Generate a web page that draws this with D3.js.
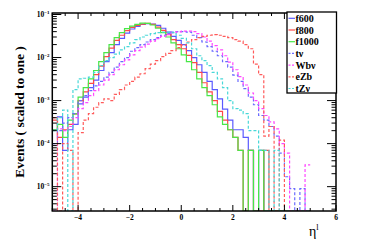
<!DOCTYPE html>
<html><head><meta charset="utf-8">
<script src="https://cdn.jsdelivr.net/npm/d3@7/dist/d3.min.js"></script>
<style>
body{margin:0;background:#fff;}
svg{display:block;font-family:"Liberation Serif","Times New Roman",serif;font-weight:bold;}
</style>
</head><body>
<svg id="c" width="374" height="249"></svg>
<script>
// histogram binning: 50 bins of width 0.2 from -5 to 5
const binLow = -5, binWidth = 0.2, nBins = 50;

const f600 = [2.1e-4,4.2e-4,7e-5,2.1e-4,2.8e-4,8.4e-4,1.2e-3,2.0e-3,3.0e-3,5.0e-3,
  8.0e-3,1.3e-2,2.0e-2,2.8e-2,3.7e-2,4.6e-2,5.3e-2,5.9e-2,6.1e-2,6.0e-2,
  5.6e-2,4.8e-2,3.9e-2,3.1e-2,2.5e-2,2.0e-2,1.45e-2,1.0e-2,6.8e-3,4.5e-3,
  2.8e-3,1.8e-3,1.1e-3,6.3e-4,3.5e-4,2.1e-4,2.1e-4,1.4e-4,7e-5,0,
  7e-5,0,0,0,0,0,0,0,0,0];
const f800 = [3.5e-4,1.4e-4,2.1e-4,2.8e-4,4.9e-4,1.0e-3,1.6e-3,2.5e-3,4.0e-3,6.3e-3,
  1.05e-2,1.66e-2,2.5e-2,3.3e-2,4.2e-2,5.0e-2,5.6e-2,6.0e-2,6.2e-2,5.9e-2,
  5.1e-2,4.3e-2,3.4e-2,2.6e-2,2.0e-2,1.6e-2,1.12e-2,7.6e-3,4.5e-3,2.6e-3,
  1.6e-3,1.0e-3,5.6e-4,3.5e-4,2.1e-4,1.4e-4,7e-5,0,7e-5,0,
  0,7e-5,0,0,0,0,0,0,0,0];
const f1000 = [2.1e-4,2.8e-4,1.4e-4,3.5e-4,4.9e-4,1.2e-3,2.0e-3,3.2e-3,5.0e-3,8.0e-3,
  1.3e-2,2.0e-2,2.9e-2,3.8e-2,4.7e-2,5.4e-2,5.9e-2,6.3e-2,6.2e-2,5.7e-2,
  4.8e-2,3.8e-2,3.0e-2,2.2e-2,1.6e-2,1.15e-2,8.0e-3,5.2e-3,3.2e-3,2.0e-3,
  1.3e-3,8.0e-4,4.2e-4,2.8e-4,2.1e-4,1.4e-4,7e-5,0,7e-5,0,
  7e-5,0,0,0,0,0,0,0,0,0];
const tnu = [1.0e-4,2.0e-4,3.0e-4,4.0e-4,5.0e-4,1.0e-3,1.3e-3,1.7e-3,2.2e-3,2.8e-3,
  3.5e-3,4.5e-3,6.0e-3,8.0e-3,1.0e-2,1.4e-2,1.7e-2,2.0e-2,2.3e-2,2.6e-2,
  2.9e-2,3.3e-2,3.6e-2,3.9e-2,4.0e-2,4.0e-2,3.9e-2,3.3e-2,2.9e-2,2.3e-2,
  1.8e-2,1.4e-2,1.1e-2,8.0e-3,6.0e-3,3.9e-3,2.8e-3,1.9e-3,1.2e-3,8.0e-4,
  4.5e-4,3.5e-4,2.5e-4,1.5e-4,6e-5,1.7e-5,9e-6,0,9e-6,0];
const Wbnu = [0,2.2e-4,2.0e-4,2.5e-4,4.0e-4,6.5e-4,9.0e-4,1.3e-3,1.7e-3,2.3e-3,
  3.0e-3,4.0e-3,5.2e-3,6.8e-3,8.8e-3,1.15e-2,1.45e-2,1.75e-2,2.05e-2,2.4e-2,
  2.75e-2,3.1e-2,3.45e-2,3.75e-2,3.95e-2,4.1e-2,4.1e-2,4.0e-2,3.6e-2,3.0e-2,
  2.4e-2,1.9e-2,1.5e-2,1.1e-2,7.8e-3,5.2e-3,3.6e-3,2.3e-3,1.5e-3,1.0e-3,
  6.5e-4,4.5e-4,3.2e-4,2.2e-4,1.0e-4,6e-5,0,0,0,3.2e-5];
const eZb = [4.0e-4,0,1.0e-4,7e-5,0,1.8e-4,3.5e-4,5.0e-4,7.0e-4,9.0e-4,
  1.1e-3,1.0e-3,1.4e-3,1.8e-3,2.3e-3,2.8e-3,3.5e-3,4.2e-3,5.5e-3,7.0e-3,
  8.5e-3,1.05e-2,1.25e-2,1.45e-2,1.7e-2,1.95e-2,2.3e-2,2.6e-2,2.9e-2,3.1e-2,
  3.3e-2,3.4e-2,3.3e-2,3.1e-2,2.9e-2,2.6e-2,2.4e-2,2.0e-2,1.6e-2,7.0e-3,
  4.0e-3,1.5e-4,2.5e-4,0,1.2e-4,0,0,0,0,0];
const tZnu = [2.0e-4,4.0e-4,6.0e-4,0,1.8e-3,3.2e-3,3.3e-3,3.5e-3,4.5e-3,6.5e-3,
  8.5e-3,1.0e-2,1.2e-2,1.5e-2,1.8e-2,2.2e-2,2.6e-2,3.0e-2,3.3e-2,3.6e-2,
  3.8e-2,3.9e-2,3.9e-2,3.8e-2,3.3e-2,2.8e-2,2.2e-2,1.6e-2,1.1e-2,8.5e-3,
  6.5e-3,4.5e-3,3.2e-3,2.0e-3,1.0e-3,6.5e-4,6.0e-4,5.0e-4,2.0e-4,2.0e-4,
  7e-5,7e-5,0,7e-5,0,0,0,0,0,0];

const seriesNames = ["f600","f800","f1000","t\u03bd","Wb\u03bd","eZb","tZ\u03bd"];
const seriesData = [f600,f800,f1000,tnu,Wbnu,eZb,tZnu];
const seriesColors = ["#5a5aff","#ff4848","#48e848","#6a6aff","#ff48ff","#ff5a5a","#48d8d8"];
const seriesDashed = [false,false,false,true,true,true,true];

const xTickLabels = [-4,-2,0,2,4,6];
const yDecades = [-5,-4,-3,-2,-1];

const svg = d3.select("#c");
const L = 52.3, R = 336, T = 13, B = 211;
const x = d3.scaleLinear().domain([-5, 6]).range([L, R]);
const y = d3.scaleLog().domain([2.72e-6, 0.1084]).range([B, T]);

svg.append("defs").append("clipPath").attr("id","clip")
  .append("rect").attr("x",L).attr("y",T).attr("width",R-L).attr("height",B-T);

const yv = v => v > 0 ? Math.min(B, y(v)) : B;

const drawOrder = [0,1,2,3,4,5,6];
const g = svg.append("g").attr("clip-path","url(#clip)");
drawOrder.forEach(si => {
  const d = seriesData[si];
  let p = "M" + x(binLow) + "," + yv(d[0]);
  for (let i = 0; i < nBins; i++) {
    const xr = x(binLow + (i+1)*binWidth);
    p += "H" + xr;
    if (i < nBins-1) p += "V" + yv(d[i+1]);
  }
  g.append("path").attr("d", p).attr("fill","none")
    .attr("stroke", seriesColors[si]).attr("stroke-width", 1.2)
    .attr("stroke-dasharray", seriesDashed[si] ? "3,2" : null);
});

// frame
svg.append("rect").attr("x",L).attr("y",T).attr("width",R-L).attr("height",B-T)
  .attr("fill","none").attr("stroke","#000").attr("stroke-width",1.5);

// x ticks (bottom and top), every 0.5, major every 2
const ax = svg.append("g").attr("stroke","#000").attr("stroke-width",1);
for (let v = -5; v <= 6.001; v += 0.5) {
  const major = Math.abs(v/2 - Math.round(v/2)) < 1e-6;
  const len = major ? 6 : 3;
  const xx = x(v);
  ax.append("line").attr("x1",xx).attr("x2",xx).attr("y1",B).attr("y2",B-len);
  ax.append("line").attr("x1",xx).attr("x2",xx).attr("y1",T).attr("y2",T+len);
}
// y ticks (left and right)
for (let d = -6; d <= -1; d++) {
  for (let k = 1; k <= 9; k++) {
    const v = k * Math.pow(10, d);
    if (v < y.domain()[0] || v > y.domain()[1]) continue;
    const len = k === 1 ? 9 : 4.5;
    const yy = y(v);
    ax.append("line").attr("x1",L).attr("x2",L+len).attr("y1",yy).attr("y2",yy);
    ax.append("line").attr("x1",R).attr("x2",R-len).attr("y1",yy).attr("y2",yy);
  }
}

// x tick labels
xTickLabels.forEach(v => {
  svg.append("text").attr("x", x(v)).attr("y", 219.5).attr("text-anchor","middle")
    .attr("font-size", 7.5).text(v < 0 ? "\u2212" + Math.abs(v) : String(v));
});
// y tick labels
yDecades.forEach(d => {
  const t = svg.append("text").attr("x", 49.5).attr("y", y(Math.pow(10,d)) + 2.6)
    .attr("text-anchor","end").attr("font-size", 7.5);
  t.append("tspan").text("10");
  t.append("tspan").attr("dy", -3.2).attr("font-size", 5).text("\u2212" + Math.abs(d));
});

// axis titles
svg.append("text").attr("transform","translate(24,112) rotate(-90)")
  .attr("text-anchor","middle").attr("font-size", 13.5).text("Events ( scaled to one )");
const xt = svg.append("text").attr("x", 309).attr("y", 236).attr("font-size", 14).attr("font-weight","normal");
xt.append("tspan").text("\u03b7");
xt.append("tspan").attr("dy", -6).attr("font-size", 8.5).text("l");

// legend
const lg = svg.append("g");
lg.append("rect").attr("x",287).attr("y",12).attr("width",49.5).attr("height",81)
  .attr("fill","#fff").attr("stroke","#000").attr("stroke-width",1.3);
const legY = [18.3,30.0,41.7,53.4,65.1,76.8,88.5];
seriesNames.forEach((n,i) => {
  lg.append("line").attr("x1",288.5).attr("x2",295).attr("y1",legY[i]).attr("y2",legY[i])
    .attr("stroke",seriesColors[i]).attr("stroke-width",1.2)
    .attr("stroke-dasharray", seriesDashed[i] ? "2,1.5" : null);
  lg.append("text").attr("x",295.5).attr("y",legY[i]+3.6).attr("font-size",10).text(n);
});
</script>
</body></html>
